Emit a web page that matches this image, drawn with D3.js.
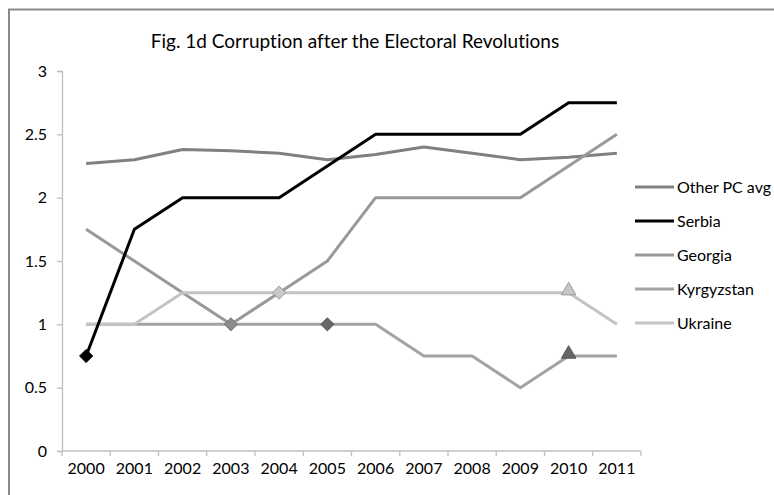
<!DOCTYPE html>
<html>
<head>
<meta charset="utf-8">
<script src="https://cdn.jsdelivr.net/npm/d3@7"></script>
<style>
  body { margin: 0; background: #fff; }
  text { font-family: Lato, "Open Sans", sans-serif; fill: #000; font-variant-ligatures: none; }
</style>
</head>
<body>
<svg id="chart" width="774" height="495"></svg>
<script>
// Corruption scores by year
var years = ['2000', '2001', '2002', '2003', '2004', '2005', '2006', '2007', '2008', '2009', '2010', '2011']
  , yTicks = [0, 0.5, 1, 1.5, 2, 2.5, 3]
  , otherPC = [2.27, 2.30, 2.38, 2.37, 2.35, 2.30, 2.34, 2.40, 2.35, 2.30, 2.32, 2.35]
  , serbia = [0.75, 1.75, 2, 2, 2, 2.25, 2.5, 2.5, 2.5, 2.5, 2.75, 2.75]
  , georgia = [1.75, 1.5, 1.25, 1, 1.25, 1.5, 2, 2, 2, 2, 2.25, 2.5]
  , kyrgyzstan = [1, 1, 1, 1, 1, 1, 1, 0.75, 0.75, 0.5, 0.75, 0.75]
  , ukraine = [1, 1, 1.25, 1.25, 1.25, 1.25, 1.25, 1.25, 1.25, 1.25, 1.25, 1]
  // revolution years (diamonds) and 2010 events (triangles)
  , diamondYears = { 'Serbia': ['2000'], 'Georgia': ['2003'], 'Ukraine': ['2004'], 'Kyrgyzstan': ['2005'] }
  , triangleYears = { 'Ukraine': ['2010'], 'Kyrgyzstan': ['2010'] }

var series = [
  { name: 'Other PC avg', values: otherPC, color: '#808080', marker: null },
  { name: 'Serbia', values: serbia, color: '#000000', marker: ['#000', '#000'] },
  { name: 'Georgia', values: georgia, color: '#999999', marker: ['#8c8c8c', '#737373'] },
  { name: 'Kyrgyzstan', values: kyrgyzstan, color: '#a3a3a3', marker: ['#676767', '#555'] },
  { name: 'Ukraine', values: ukraine, color: '#c4c4c4', marker: ['#c8c8c8', '#999'] }
]

var svg = d3.select('#chart')
  , margin = { left: 62, right: 133, top: 71, bottom: 44 }
  , width = 774 - margin.left - margin.right
  , height = 495 - margin.top - margin.bottom

// chart frame (only top and left edges are visible in the picture)
svg.append('path')
  .attr('d', 'M9,495V9.5H774')
  .attr('fill', 'none').attr('stroke', '#8a8a8a').attr('stroke-width', 2)

svg.append('text')
  .attr('x', 355).attr('y', 48)
  .attr('text-anchor', 'middle')
  .style('font-size', '19px')
  .text('Fig. 1d Corruption after the Electoral Revolutions')

var g = svg.append('g').attr('transform', 'translate(' + margin.left + ',' + margin.top + ')')

var x = d3.scaleBand().domain(years).range([0, width])
  , y = d3.scaleLinear().domain([0, 3]).range([height, 0])
  , cx = function(yr) { return x(yr) + x.bandwidth() / 2 }

// y axis
var yAxis = g.append('g').call(d3.axisLeft(y).tickValues(yTicks).tickFormat(d3.format('')).tickSize(5).tickPadding(10))
yAxis.select('.domain').attr('stroke', '#bfbfbf').attr('stroke-width', 1.3)
yAxis.selectAll('line').attr('stroke', '#bfbfbf').attr('stroke-width', 1.3)
yAxis.selectAll('text').style('font-size', '16px').style('font-family', 'Lato, sans-serif').attr('fill', '#000')

// x axis: ticks on category boundaries
var xAxis = g.append('g').attr('transform', 'translate(0,' + height + ')')
  .call(d3.axisBottom(x).tickSize(0).tickPadding(12))
xAxis.select('.domain').remove()
xAxis.selectAll('text').style('font-size', '16px').style('font-family', 'Lato, sans-serif').attr('fill', '#000')
xAxis.append('line').attr('x1', 0).attr('x2', width).attr('stroke', '#bfbfbf').attr('stroke-width', 1.3)
xAxis.selectAll('.bound').data(d3.range(years.length + 1)).enter().append('line')
  .attr('class', 'bound')
  .attr('x1', function(i) { return i * x.step() }).attr('x2', function(i) { return i * x.step() })
  .attr('y1', 0).attr('y2', 5)
  .attr('stroke', '#bfbfbf').attr('stroke-width', 1.3)

var line = d3.line()
  .x(function(d, i) { return cx(years[i]) })
  .y(function(d) { return y(d) })

// draw Serbia last so the black line sits on top
var drawOrder = [series[0], series[2], series[3], series[4], series[1]]

g.selectAll('.series').data(drawOrder).enter().append('path')
  .attr('class', 'series')
  .attr('d', function(s) { return line(s.values) })
  .attr('fill', 'none')
  .attr('stroke', function(s) { return s.color })
  .attr('stroke-width', 3)
  .attr('stroke-linejoin', 'round')

var markers = []
series.forEach(function(s) {
  ;(diamondYears[s.name] || []).forEach(function(yr) {
    markers.push({ s: s, yr: yr, shape: d3.symbolDiamond2 })
  })
  ;(triangleYears[s.name] || []).forEach(function(yr) {
    markers.push({ s: s, yr: yr, shape: d3.symbolTriangle2 })
  })
})

g.selectAll('.marker').data(markers).enter().append('path')
  .attr('class', 'marker')
  .attr('transform', function(d) {
    var dy = d.shape === d3.symbolTriangle2 ? -2 : 0
    return 'translate(' + cx(d.yr) + ',' + (y(d.s.values[years.indexOf(d.yr)]) + dy) + ')'
  })
  .attr('d', function(d) { return d3.symbol(d.shape, d.shape === d3.symbolTriangle2 ? 150 : 110)() })
  .attr('fill', function(d) { return d.s.marker[0] })
  .attr('stroke', function(d) { return d.s.marker[1] })
  .attr('stroke-width', 1)

// legend
var legend = svg.append('g').attr('transform', 'translate(635,187)')
var item = legend.selectAll('g').data(series).enter().append('g')
  .attr('transform', function(d, i) { return 'translate(0,' + i * 34 + ')' })
item.append('line').attr('x1', 0).attr('x2', 39)
  .attr('stroke', function(d) { return d.color }).attr('stroke-width', 3)
item.append('text').attr('x', 42).attr('dy', '0.35em')
  .style('font-size', '16px')
  .text(function(d) { return d.name })
</script>
</body>
</html>
